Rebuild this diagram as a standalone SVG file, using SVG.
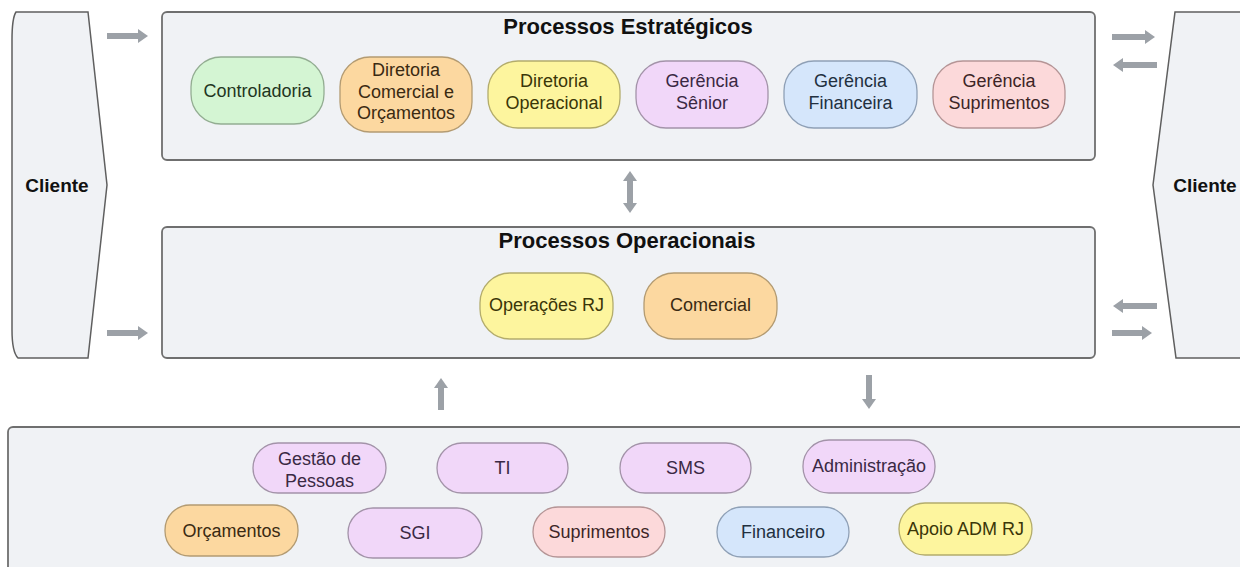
<svg xmlns="http://www.w3.org/2000/svg" width="1240" height="567" viewBox="0 0 1240 567">
<defs>
<style>
.bg{fill:#ffffff}
.cont{fill:#f0f2f5;stroke:#6f6f6f;stroke-width:1.8}
.client{fill:#f0f2f5;stroke:#5f5f5f;stroke-width:1.5}
.title{font-family:"Liberation Sans",Arial,sans-serif;font-weight:bold;font-size:22px;fill:#111;text-anchor:middle}
.cl{font-family:"Liberation Sans",Arial,sans-serif;font-weight:bold;font-size:19px;fill:#111;text-anchor:middle}
.nt{font-family:"Liberation Sans",Arial,sans-serif;font-size:18px;text-anchor:middle}
.g{fill:#d4f5d3;stroke:#93ad92;stroke-width:1.3}
.o{fill:#fcd8a0;stroke:#b39b72;stroke-width:1.3}
.y{fill:#fdf59e;stroke:#b3ac6c;stroke-width:1.3}
.p{fill:#f1d7f9;stroke:#a393a9;stroke-width:1.3}
.b{fill:#d5e6fb;stroke:#8fa0b6;stroke-width:1.3}
.k{fill:#fcd9da;stroke:#b59596;stroke-width:1.3}
.tg{fill:#1f3522}
.to{fill:#3a2a12}
.ty{fill:#3a3608}
.tp{fill:#3a2944}
.tb{fill:#22303f}
.tk{fill:#3d2526}
.arr{stroke:#9ca1a7;stroke-width:6;fill:none}
</style>
<marker id="ah" viewBox="0 0 10 14" refX="1" refY="7" markerWidth="10" markerHeight="14" markerUnits="userSpaceOnUse" orient="auto-start-reverse">
<path d="M0,0 L10,7 L0,14 Z" fill="#9ca1a7"/>
</marker>
</defs>
<rect class="bg" x="0" y="0" width="1240" height="567"/>

<g id="cliente-esquerda">
<path class="client" d="M16,12 L88,12 L107,185 L88,358 L18,358 Q12,352 12,330 L12,40 Q12,18 16,12 Z"/>
<text class="cl" x="57" y="192">Cliente</text>
</g>
<g id="cliente-direita">
<path class="client" d="M1175,12 L1250,12 L1250,358 L1176,358 L1153,185 Z"/>
<text class="cl" x="1205" y="192">Cliente</text>
</g>

<g id="processos-estrategicos">
<rect class="cont" x="162" y="12" width="933" height="148" rx="5"/>
<text class="title" x="628" y="34">Processos Estratégicos</text>
</g>
<g id="processos-operacionais">
<rect class="cont" x="162" y="227" width="933" height="131" rx="5"/>
<text class="title" x="627" y="248">Processos Operacionais</text>
</g>
<g id="processos-apoio">
<rect class="cont" x="8" y="427" width="1250" height="160" rx="5"/>
</g>

<g id="controladoria">
<rect class="g" x="191" y="57" width="133" height="67" rx="30"/>
<text class="nt tg" x="257.5" y="97">Controladoria</text>
</g>
<g id="diretoria-comercial">
<rect class="o" x="340" y="57" width="132" height="75" rx="30"/>
<text class="nt to" x="406" y="76">Diretoria</text>
<text class="nt to" x="406" y="98">Comercial e</text>
<text class="nt to" x="406" y="119">Orçamentos</text>
</g>
<g id="diretoria-operacional">
<rect class="y" x="488" y="61" width="132" height="67" rx="30"/>
<text class="nt ty" x="554" y="87">Diretoria</text>
<text class="nt ty" x="554" y="109">Operacional</text>
</g>
<g id="gerencia-senior">
<rect class="p" x="636" y="61" width="132" height="67" rx="30"/>
<text class="nt tp" x="702" y="87">Gerência</text>
<text class="nt tp" x="702" y="109">Sênior</text>
</g>
<g id="gerencia-financeira">
<rect class="b" x="784" y="61" width="133" height="67" rx="30"/>
<text class="nt tb" x="850.5" y="87">Gerência</text>
<text class="nt tb" x="850.5" y="109">Financeira</text>
</g>
<g id="gerencia-suprimentos">
<rect class="k" x="933" y="61" width="132" height="67" rx="30"/>
<text class="nt tk" x="999" y="87">Gerência</text>
<text class="nt tk" x="999" y="109">Suprimentos</text>
</g>

<g id="operacoes-rj">
<rect class="y" x="480" y="273" width="133" height="66" rx="30"/>
<text class="nt ty" x="546.5" y="311">Operações RJ</text>
</g>
<g id="comercial">
<rect class="o" x="644" y="273" width="133" height="66" rx="30"/>
<text class="nt to" x="710.5" y="311">Comercial</text>
</g>

<g id="gestao-pessoas">
<rect class="p" x="253" y="443" width="133" height="50" rx="25"/>
<text class="nt tp" x="319.5" y="465">Gestão de</text>
<text class="nt tp" x="319.5" y="487">Pessoas</text>
</g>
<g id="ti">
<rect class="p" x="437" y="443" width="131" height="50" rx="25"/>
<text class="nt tp" x="502.5" y="474">TI</text>
</g>
<g id="sms">
<rect class="p" x="620" y="443" width="131" height="50" rx="25"/>
<text class="nt tp" x="685.5" y="474">SMS</text>
</g>
<g id="administracao">
<rect class="p" x="803" y="440" width="132" height="53" rx="26"/>
<text class="nt tp" x="869" y="472">Administração</text>
</g>
<g id="orcamentos">
<rect class="o" x="165" y="505" width="133" height="51" rx="25"/>
<text class="nt to" x="231.5" y="537">Orçamentos</text>
</g>
<g id="sgi">
<rect class="p" x="348" y="508" width="134" height="50" rx="25"/>
<text class="nt tp" x="415" y="539">SGI</text>
</g>
<g id="suprimentos">
<rect class="k" x="533" y="507" width="132" height="50" rx="25"/>
<text class="nt tk" x="599" y="538">Suprimentos</text>
</g>
<g id="financeiro">
<rect class="b" x="717" y="507" width="132" height="50" rx="25"/>
<text class="nt tb" x="783" y="538">Financeiro</text>
</g>
<g id="apoio-adm-rj">
<rect class="y" x="899" y="503" width="133" height="52" rx="26"/>
<text class="nt ty" x="965.5" y="535">Apoio ADM RJ</text>
</g>

<g id="conectores">
<line class="arr" x1="107" y1="36" x2="139" y2="36" marker-end="url(#ah)"/>
<line class="arr" x1="107" y1="333" x2="139" y2="333" marker-end="url(#ah)"/>
<line class="arr" x1="1112" y1="37" x2="1146" y2="37" marker-end="url(#ah)"/>
<line class="arr" x1="1157" y1="65" x2="1122" y2="65" marker-end="url(#ah)"/>
<line class="arr" x1="1157" y1="306" x2="1122" y2="306" marker-end="url(#ah)"/>
<line class="arr" x1="1112" y1="333" x2="1143" y2="333" marker-end="url(#ah)"/>
<line class="arr" x1="630" y1="180" x2="630" y2="204" marker-start="url(#ah)" marker-end="url(#ah)"/>
<line class="arr" x1="441" y1="410" x2="441" y2="387" marker-end="url(#ah)"/>
<line class="arr" x1="869" y1="375" x2="869" y2="400" marker-end="url(#ah)"/>
</g>
</svg>
